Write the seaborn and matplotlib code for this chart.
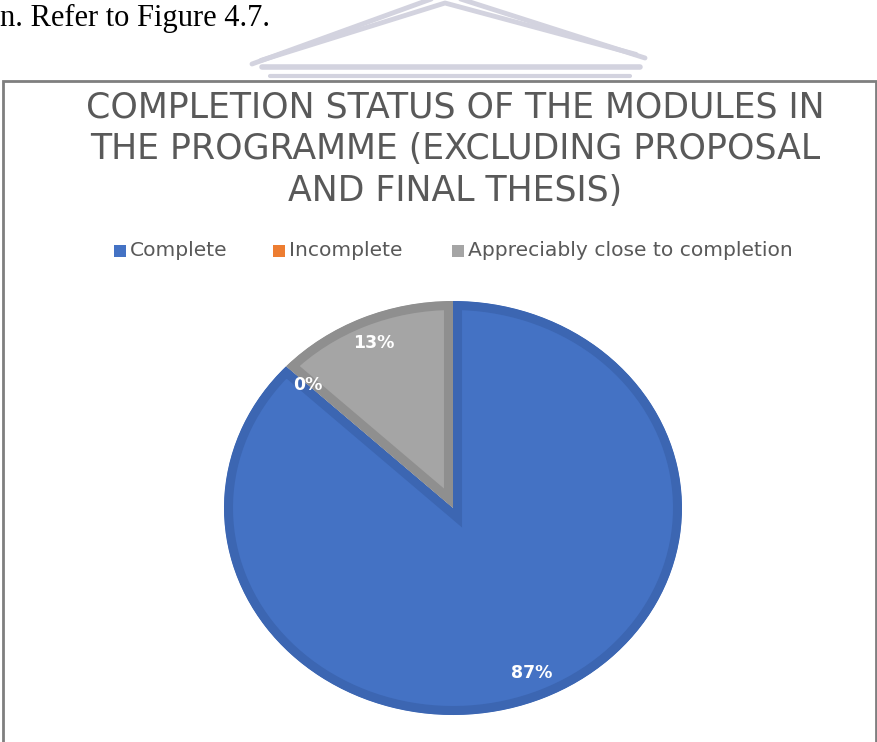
import matplotlib
matplotlib.use("Agg")
import matplotlib.pyplot as plt
from matplotlib.lines import Line2D
from matplotlib.patches import Rectangle
import seaborn as sns

# Module completion shares (percent)
categories = ["Complete", "Incomplete", "Appreciably close to completion"]
shares = [87, 0, 13]
fill_colors = ["#4472C4", "#ED7D31", "#A5A5A5"]
edge_colors = ["#3C66B2", "#D06C28", "#8F8F8F"]
title_lines = ["COMPLETION STATUS OF THE MODULES IN",
               "THE PROGRAMME (EXCLUDING PROPOSAL",
               "AND FINAL THESIS)"]
caption_text = "n. Refer to Figure 4.7."

sns.set_theme(style="white")
plt.rcParams["font.family"] = ["DejaVu Sans"]

W, H = 877, 742
fig = plt.figure(figsize=(W / 100, H / 100), dpi=100)
fig.patch.set_facecolor("white")


def fx(px):
    return px / W


def fy(py):
    return 1 - py / H


# Faint watermark pediment at the top of the page
wm = "#D3D3DF"
for off in (0, 9):
    fig.add_artist(Line2D([fx(252 + off), fx(445), fx(645 - off)],
                          [fy(64 - off * 0.4), fy(-6 + off), fy(58 - off * 0.4)],
                          color=wm, lw=3.5, solid_capstyle="round"))
fig.add_artist(Line2D([fx(262), fx(640)], [fy(67), fy(67)], color=wm, lw=4))
fig.add_artist(Line2D([fx(270), fx(630)], [fy(76), fy(76)], color=wm, lw=3))

# Body text line above the chart
fig.text(fx(0), fy(26), caption_text, family="Liberation Serif", fontsize=22,
         color="black", va="baseline", ha="left")

# Chart frame
fig.add_artist(Rectangle((fx(2.5), -0.05), fx(873), fy(80.5) + 0.05,
                         transform=fig.transFigure, fill=False,
                         edgecolor="#7F7F7F", lw=2))

# Title, one line per text
for line, base in zip(title_lines, (117, 159, 201)):
    fig.text(fx(455), fy(base), line, ha="center", va="baseline",
             fontsize=25, color="#595959")

# Legend: square swatch + label for each category
swatch_x = [114, 273, 452]
for cat, col, sx in zip(categories, fill_colors, swatch_x):
    fig.add_artist(Rectangle((fx(sx), fy(257)), fx(12), 12 / H,
                             transform=fig.transFigure, facecolor=col,
                             edgecolor="none"))
    fig.text(fx(sx + 16), fy(256), cat, ha="left", va="baseline",
             fontsize=14.6, color="#595959")

# Pie axes: centre at (453, 508) px, radii 229 x 207 px
rx, ry = 229, 207
lim = 1.1
ax_w, ax_h = 2 * lim * rx, 2 * lim * ry
cx, cy = 453, 508
ax = fig.add_axes([(cx - ax_w / 2) / W, (H - cy - ax_h / 2) / H, ax_w / W, ax_h / H])

wedges, texts, autotexts = ax.pie(
    shares, colors=fill_colors, startangle=90, counterclock=False,
    autopct=lambda p: f"{p:.0f}%", pctdistance=0.87,
    textprops=dict(color="white", fontsize=12.5, fontweight="bold"),
)
ax.set_aspect("auto")
ax.set_xlim(-lim, lim)
ax.set_ylim(-lim, lim)
ax.axis("off")

# Inner border on each slice: stroke clipped to the slice itself
for w, ec in zip(wedges, edge_colors):
    w.set_edgecolor(ec)
    w.set_linewidth(13)
    w.set_clip_path(w)
    w.set_clip_on(True)

fig.savefig("out.png", dpi=100, facecolor="white")
